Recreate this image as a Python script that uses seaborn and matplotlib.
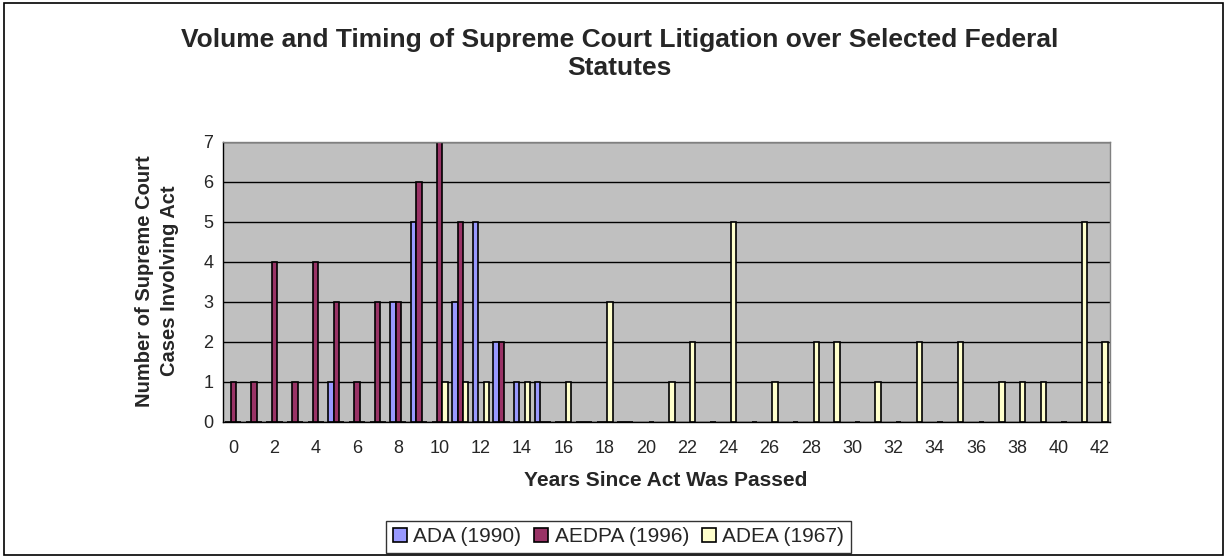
import numpy as np
import pandas as pd
import matplotlib.pyplot as plt
import seaborn as sns
from matplotlib.patches import Rectangle

# Data (years since act was passed -> number of cases)
years = list(range(43))
ada_1990 = [0, 0, 0, 0, 0, 1, 0, 0, 3, 5, 0, 3, 5, 2, 1, 1, 0, 0, 0, 0]
aedpa_1996 = [1, 1, 4, 1, 4, 3, 1, 3, 3, 6, 7, 5, 0, 2, 0, 0, 0, 0, 0, 0]
adea_1967 = [0, 0, 0, 0, 0, 0, 0, 0, 0, 0, 1, 1, 1, 0, 1, 0, 1, 0, 3, 0,
             0, 1, 2, 0, 5, 0, 1, 0, 2, 2, 0, 1, 0, 2, 0, 2, 0, 1, 1, 1,
             0, 5, 2]
series_names = ['ADA (1990)', 'AEDPA (1996)', 'ADEA (1967)']
series_colors = ['#9999FF', '#993366', '#FFFFCC']

# Long-form table for seaborn
rows = []
for name, vals in zip(series_names, [ada_1990, aedpa_1996, adea_1967]):
    for yr, v in zip(years, vals):
        rows.append({'Year': yr, 'Cases': v, 'Act': name})
df = pd.DataFrame(rows)

sns.set_style('white')
plt.rcParams['font.family'] = ['Liberation Sans', 'DejaVu Sans']

fig = plt.figure(figsize=(12.27, 5.57), dpi=100)
ax = fig.add_axes([0.1817, 0.2424, 0.723, 0.503])

sns.barplot(data=df, x='Year', y='Cases', hue='Act', order=years,
            hue_order=series_names, palette=series_colors, width=0.78,
            gap=0, edgecolor='black', linewidth=1.2, errorbar=None,
            saturation=1, ax=ax)

ax.set_facecolor('#C0C0C0')
ax.set_ylim(0, 7)
ax.set_xlim(-0.5, 42.5)
ax.set_yticks(range(8))
ax.yaxis.grid(True, color='black', linewidth=1)
ax.set_axisbelow(True)

# x labels on every other year, tick marks between categories
ax.set_xticks(years)
ax.set_xticklabels([str(y) if y % 2 == 0 else '' for y in years])
ax.set_xticks(np.arange(-0.5, 43, 1), minor=True)
ax.tick_params(axis='x', which='major', length=0, labelsize=13, pad=13)
ax.tick_params(axis='x', which='minor', length=5, width=1, color='black', direction='out')
ax.tick_params(axis='y', length=4, width=1, color='black', labelsize=13, direction='out', pad=3)

for side in ['left', 'bottom']:
    ax.spines[side].set_color('black')
    ax.spines[side].set_linewidth(1)
for side in ['top', 'right']:
    ax.spines[side].set_color('#808080')
    ax.spines[side].set_linewidth(1)

ax.set_xlabel('')
ax.set_ylabel('')
fig.text(0.5426, 0.138, 'Years Since Act Was Passed', ha='center', va='center',
         fontsize=15, fontweight='bold')
fig.text(0.128, 0.4955, 'Number of Supreme Court\nCases Involving Act', rotation=90,
         ha='center', va='center', fontsize=14.5, fontweight='bold', linespacing=1.35)

fig.suptitle('Volume and Timing of Supreme Court Litigation over Selected Federal\nStatutes',
             x=0.505, y=0.95, fontsize=19, fontweight='bold', linespacing=1.2)

handles, labels = ax.get_legend_handles_labels()
ax.get_legend().remove()
leg = fig.legend(handles, labels, loc='center', bbox_to_anchor=(0.504, 0.036), ncol=3,
                 frameon=True, fancybox=False, edgecolor='black', fontsize=15,
                 handlelength=0.7, handleheight=0.7, handletextpad=0.3,
                 columnspacing=0.6, borderpad=0.3)
leg.get_frame().set_linewidth(1)

fig.patches.append(Rectangle((0.003, 0.004), 0.994, 0.99, transform=fig.transFigure,
                             fill=False, edgecolor='black', linewidth=1.2))

fig.savefig('out.png', dpi=100)
